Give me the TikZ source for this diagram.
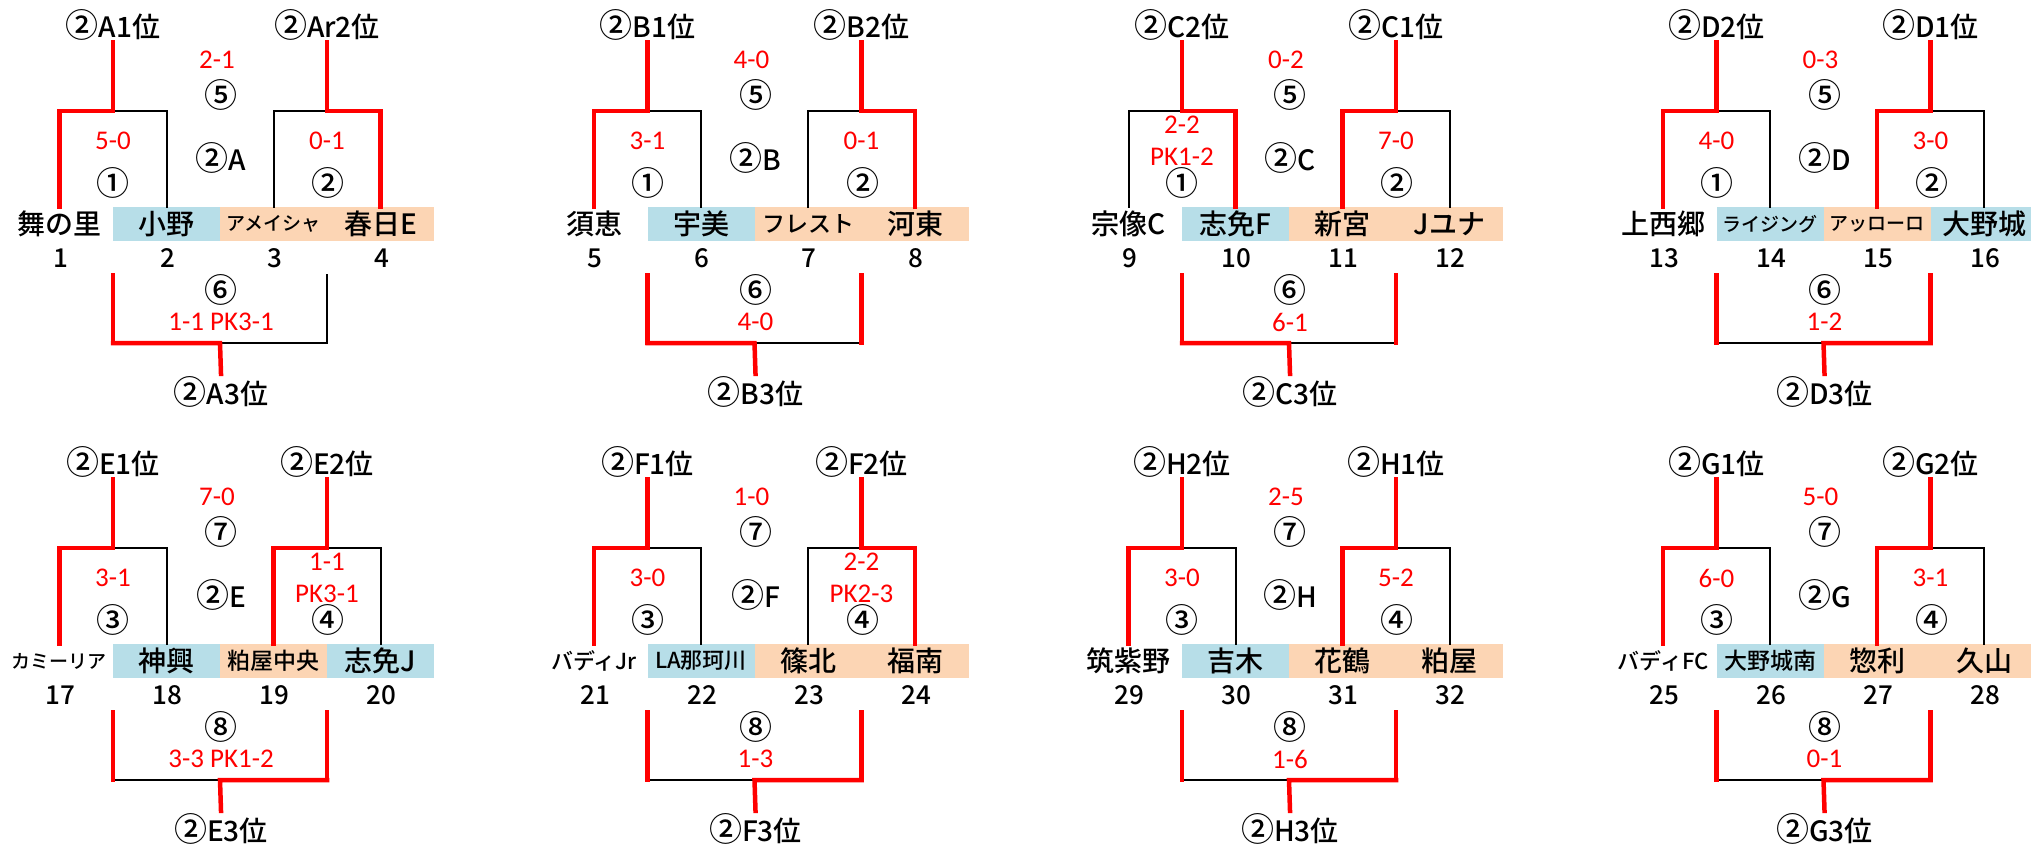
\documentclass[tikz,border=0pt]{standalone}
\usepackage{fontspec}
\setmainfont{Noto Sans CJK JP}[UprightFont=* Medium]
\newfontfamily\scorefont{Carlito}

\definecolor{cellblue}{HTML}{B7DEE8}
\definecolor{cellpeach}{HTML}{FCD5B4}
\definecolor{winred}{HTML}{FF0000}

\newcommand\nmL{\fontsize{28}{30}\selectfont}
\newcommand\nmM{\fontsize{23}{25}\selectfont}
\newcommand\nmT{\fontsize{22}{24}\selectfont}
\newcommand\nmS{\fontsize{19}{21}\selectfont}
\newcommand\cc[1]{{\fontsize{33}{30}\selectfont #1}}

\tikzset{
  win/.style={draw=winred, line width=4.5pt, line join=miter, line cap=rect},
  lose/.style={draw=black, line width=2pt, line cap=rect},
  botl/.style={win}, botr/.style={win},
  cell/.style={minimum width=107pt, minimum height=34pt, inner sep=0pt, outer sep=0pt, font=\nmL},
  num/.style={inner sep=0pt, font=\fontsize{26}{28}\selectfont},
  lab/.style={inner xsep=1pt, inner ysep=2pt, anchor=base, font=\fontsize{28}{30}\selectfont},
  circ/.style={inner sep=0pt, font=\fontsize{33}{30}\selectfont},
  score/.style={inner sep=0pt, text=winred, font=\scorefont\fontsize{27}{32}\selectfont, align=center},
}

\pgfkeys{/br/.cd,
  id/.store in=\brID,
  tl/.store in=\brTL, tr/.store in=\brTR, mid/.store in=\brMID, bot/.store in=\brBOT,
  fs/.store in=\brFS, fc/.store in=\brFC,
  sa/.store in=\brSa, ca/.store in=\brCa,
  sb/.store in=\brSb, cb/.store in=\brCb,
  bs/.store in=\brBS, bc/.store in=\brBC,
  na/.store in=\brNa, nb/.store in=\brNb, nc/.store in=\brNc, nd/.store in=\brNd,
  ka/.store in=\brKa, kb/.store in=\brKb, kc/.store in=\brKc, kd/.store in=\brKd,
  colb/.store in=\brColB, colc/.store in=\brColC, cold/.store in=\brColD,
  wa/.store in=\brWa, la/.store in=\brLa,
  wb/.store in=\brWb, lb/.store in=\brLb,
  ww/.store in=\brWW, wl/.store in=\brWL,
}

\newcommand\Bracket[4][]{%
  \pgfkeys{/br/.cd,#4}%
  \begin{scope}[shift={(#2,#3)},#1]
    % joints
    \coordinate (\brID-j1) at (113,111);
    \coordinate (\brID-j2) at (327,111);
    \coordinate (\brID-l1) at (113,275);
    \coordinate (\brID-l2) at (327,275);
    \coordinate (\brID-k1) at (113,343);
    \coordinate (\brID-k2) at (327,343);
    \coordinate (\brID-j3) at (220,343);
    % team cells
    \node[cell] (\brID-t1) at (59.5,224) {\brNa};
    \node[cell, fill=\brColB] (\brID-t2) at (166.5,224) {\brNb};
    \node[cell, fill=\brColC] (\brID-t3) at (273.5,224) {\brNc};
    \node[cell, fill=\brColD] (\brID-t4) at (380.5,224) {\brNd};
    % numbers
    \node[num] (\brID-n1) at (60.5,258) {\brKa};
    \node[num] (\brID-n2) at (167.5,258) {\brKb};
    \node[num] (\brID-n3) at (274.5,258) {\brKc};
    \node[num] (\brID-n4) at (381.5,258) {\brKd};
    % labels (placed on their baseline)
    \node[lab] (\brID-w1) at (113,37) {\brTL};
    \node[lab] (\brID-w2) at (327,37) {\brTR};
    \node[lab] (\brID-w3) at (221,404) {\brBOT};
    \node[lab] (\brID-mid) at (221,170) {\brMID};
    % final
    \node[score] (\brID-fs) at (217,60) {\brFS};
    \node[circ] (\brID-fc) at (221,95) {\brFC};
    % semis
    \node[score] (\brID-sa) at (113,141) {\brSa};
    \node[circ] (\brID-ca) at (113,183) {\brCa};
    \node[score] (\brID-sb) at (327,141) {\brSb};
    \node[circ] (\brID-cb) at (328,183) {\brCb};
    % third place
    \node[circ] (\brID-bc) at (221,290) {\brBC};
    \node[score] (\brID-bs) at (221,322) {\brBS};
    % connectors: losers first
    \draw[lose] (\brID-t\brLa.north) |- (\brID-j1);
    \draw[lose] (\brID-t\brLb.north) |- (\brID-j2);
    \draw[lose] (\brID-k\brWL) -- (\brID-j3);
    \draw[botl] (\brID-l1) -- (\brID-k1);
    \draw[botr] (\brID-l2) -- (\brID-k2);
    % winners
    \draw[win] (\brID-t\brWa.north) |- (\brID-j1) -- (\brID-w1.south);
    \draw[win] (\brID-t\brWb.north) |- (\brID-j2) -- (\brID-w2.south);
    \draw[win] (\brID-k\brWW) -- (\brID-j3) -- (\brID-w3.north);
  \end{scope}}

\begin{document}
\begin{tikzpicture}[x=1pt, y=-1pt]
\useasboundingbox (0,0) rectangle (2031,844);
\clip (0,0) rectangle (2031,844);

% ---------- row 1 ----------
\Bracket[botr/.style=lose]{0}{0}{id=A, tl={\cc②A1位}, tr={\cc②Ar2位}, mid={\cc②A}, bot={\cc②A3位},
  fs=2-1, fc=⑤, sa=5-0, ca=①, sb=0-1, cb=②, bs=1-1 PK3-1, bc=⑥,
  na=舞の里, nb=小野, nc={\nmS アメイシャ}, nd=春日E,
  ka=1, kb=2, kc=3, kd=4, colb=cellblue, colc=cellpeach, cold=cellpeach,
  wa=1, la=2, wb=4, lb=3, ww=1, wl=2}

\Bracket{534.5}{0}{id=B, tl={\cc②B1位}, tr={\cc②B2位}, mid={\cc②B}, bot={\cc②B3位},
  fs=4-0, fc=⑤, sa=3-1, ca=①, sb=0-1, cb=②, bs=4-0, bc=⑥,
  na=須恵, nb=宇美, nc={\nmM フレスト}, nd=河東,
  ka=5, kb=6, kc=7, kd=8, colb=cellblue, colc=cellpeach, cold=cellpeach,
  wa=1, la=2, wb=4, lb=3, ww=1, wl=2}

\Bracket{1069}{0}{id=C, tl={\cc②C2位}, tr={\cc②C1位}, mid={\cc②C}, bot={\cc②C3位},
  fs=0-2, fc=⑤, sa={2-2\\PK1-2}, ca=①, sb=7-0, cb=②, bs=6-1, bc=⑥,
  na=宗像C, nb=志免F, nc=新宮, nd=Jユナ,
  ka=9, kb=10, kc=11, kd=12, colb=cellblue, colc=cellpeach, cold=cellpeach,
  wa=2, la=1, wb=3, lb=4, ww=1, wl=2}

\Bracket{1603.5}{0}{id=D, tl={\cc②D2位}, tr={\cc②D1位}, mid={\cc②D}, bot={\cc②D3位},
  fs=0-3, fc=⑤, sa=4-0, ca=①, sb=3-0, cb=②, bs=1-2, bc=⑥,
  na=上西郷, nb={\nmS ライジング}, nc={\nmS アッローロ}, nd=大野城,
  ka=13, kb=14, kc=15, kd=16, colb=cellblue, colc=cellpeach, cold=cellblue,
  wa=1, la=2, wb=3, lb=4, ww=2, wl=1}

% ---------- row 2 ----------
\Bracket{0}{437}{id=E, tl={\cc②E1位}, tr={\cc②E2位}, mid={\cc②E}, bot={\cc②E3位},
  fs=7-0, fc=⑦, sa=3-1, ca=③, sb={1-1\\PK3-1}, cb=④, bs=3-3 PK1-2, bc=⑧,
  na={\nmS カミーリア}, nb=神興, nc={\nmM 粕屋中央}, nd=志免J,
  ka=17, kb=18, kc=19, kd=20, colb=cellblue, colc=cellpeach, cold=cellblue,
  wa=1, la=2, wb=3, lb=4, ww=2, wl=1}

\Bracket{534.5}{437}{id=F, tl={\cc②F1位}, tr={\cc②F2位}, mid={\cc②F}, bot={\cc②F3位},
  fs=1-0, fc=⑦, sa=3-0, ca=③, sb={2-2\\PK2-3}, cb=④, bs=1-3, bc=⑧,
  na={\nmT バディJr}, nb={\nmT LA那珂川}, nc=篠北, nd=福南,
  ka=21, kb=22, kc=23, kd=24, colb=cellblue, colc=cellpeach, cold=cellpeach,
  wa=1, la=2, wb=4, lb=3, ww=2, wl=1}

\Bracket{1069}{437}{id=H, tl={\cc②H2位}, tr={\cc②H1位}, mid={\cc②H}, bot={\cc②H3位},
  fs=2-5, fc=⑦, sa=3-0, ca=③, sb=5-2, cb=④, bs=1-6, bc=⑧,
  na=筑紫野, nb=吉木, nc=花鶴, nd=粕屋,
  ka=29, kb=30, kc=31, kd=32, colb=cellblue, colc=cellpeach, cold=cellpeach,
  wa=1, la=2, wb=3, lb=4, ww=2, wl=1}

\Bracket{1603.5}{437}{id=G, tl={\cc②G1位}, tr={\cc②G2位}, mid={\cc②G}, bot={\cc②G3位},
  fs=5-0, fc=⑦, sa=6-0, ca=③, sb=3-1, cb=④, bs=0-1, bc=⑧,
  na={\nmT バディFC}, nb={\nmM 大野城南}, nc=惣利, nd=久山,
  ka=25, kb=26, kc=27, kd=28, colb=cellblue, colc=cellpeach, cold=cellpeach,
  wa=1, la=2, wb=3, lb=4, ww=2, wl=1}
\end{tikzpicture}
\end{document}
